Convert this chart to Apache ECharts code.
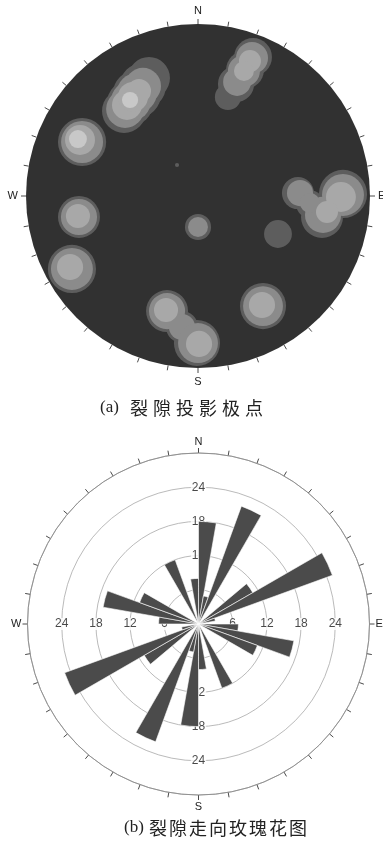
<!DOCTYPE html>
<html>
<head>
<meta charset="utf-8">
<script src="https://cdn.jsdelivr.net/npm/echarts@6.0.0/dist/echarts.min.js"></script>
<style>
  html, body { margin: 0; padding: 0; background: #fff; }
  #chart { width: 383px; height: 843px; }
</style>
</head>
<body>
<div id="chart"></div>
<script>
// Compass letters placed on the 10-degree rings of both diagrams
const compassLabels = { 0: 'N', 90: 'E', 180: 'S', 270: 'W' };

// (a) Pole density contours on the net (net radius = 100).
// Each entry: [x, y, radius, contour level]
const contourLevelColors = ['#5d5d5d', '#8b8b8b', '#a8a8a8', '#c8c8c8'];
const poleContours = [
  // NNW cluster
  [-43.0, 49.4, 12.8, 0], [-39.5, 54.1, 13.4, 0], [-35.5, 59.3, 14.0, 0], [-32.0, 64.0, 13.4, 0], [-28.5, 68.6, 12.2, 0],
  [-42.4, 50.6, 11.0, 1], [-39.0, 55.2, 11.6, 1], [-35.5, 59.9, 11.6, 1], [-32.0, 64.0, 10.5, 1],
  [-41.3, 52.9, 8.7, 2], [-37.8, 57.6, 8.7, 2], [-34.3, 61.0, 7.0, 2],
  [-39.5, 55.8, 4.7, 3],
  // NNE cluster
  [32.0, 80.8, 11.0, 0], [27.3, 73.3, 11.0, 0], [22.1, 65.1, 10.5, 0], [17.4, 57.6, 7.6, 0],
  [31.4, 80.2, 9.3, 1], [26.7, 72.7, 9.3, 1], [22.7, 66.3, 8.1, 1],
  [30.2, 78.5, 6.4, 2], [26.7, 72.7, 5.8, 2],
  // WNW cluster
  [-67.4, 31.4, 14.0, 0], [-67.4, 31.4, 12.2, 1], [-68.6, 32.6, 8.7, 2], [-69.8, 33.1, 5.2, 3],
  // W cluster
  [-69.2, -12.2, 12.2, 0], [-69.2, -12.2, 10.5, 1], [-69.8, -11.6, 7.0, 2],
  // WSW cluster
  [-73.3, -42.4, 14.0, 0], [-73.3, -42.4, 12.2, 1], [-74.4, -41.3, 7.6, 2],
  // S cluster
  [-18.0, -66.9, 12.2, 0], [-9.3, -76.2, 9.3, 0], [-0.6, -85.5, 13.4, 0],
  [-18.0, -66.9, 10.5, 1], [-9.3, -76.2, 7.6, 1], [0.0, -85.5, 11.6, 1],
  [-18.6, -66.3, 7.0, 2], [0.6, -86.0, 7.6, 2],
  // SE cluster
  [37.8, -64.0, 13.4, 0], [37.8, -64.0, 11.6, 1], [37.2, -63.4, 7.6, 2],
  // near-centre clusters
  [0.0, -18.0, 7.6, 0], [0.0, -18.0, 5.8, 1],
  [46.5, -22.1, 8.1, 0],
  [-12.2, 18.0, 1.2, 0],
  // E cluster
  [84.3, 1.2, 14.0, 0], [72.1, -12.2, 12.2, 0], [65.1, -4.7, 8.1, 0], [58.1, 1.7, 9.3, 0],
  [84.3, 0.6, 12.2, 1], [72.7, -11.0, 10.5, 1], [59.3, 1.7, 7.6, 1], [65.1, -4.1, 5.8, 1],
  [83.1, -0.6, 8.7, 2], [75.0, -9.3, 6.4, 2]
];

// (b) Strike rose: number of joints per 10-degree bin
const strikeBins = ['0', '10', '20', '30', '40', '50', '60', '70', '80',
  '90', '100', '110', '120', '130', '140', '150', '160', '170',
  '180', '190', '200', '210', '220', '230', '240', '250', '260',
  '270', '280', '290', '300', '310', '320', '330', '340', '350'];
const strikeCounts = [18, 5, 22, 0, 0, 11, 25, 3, 0,
  7, 17, 11, 0, 0, 0, 12, 0, 8,
  18, 5, 22, 0, 0, 11, 25, 3, 0,
  7, 17, 11, 0, 0, 0, 12, 0, 8];
const ringTicks = [6, 12, 18, 24];
const ringLabelAngles = [0, 90, 180, 270];

const captionA = { tag: '(a)', text: '裂隙投影极点' };
const captionB = { tag: '(b)', text: '裂隙走向玫瑰花图' };

// ---- build the option ----
const netRadius = 100;
const sortedContours = poleContours.slice().sort((p, q) => p[3] - q[3]);

function circleRenderer(fillOf) {
  return function (params, api) {
    const c = api.coord([api.value(0), api.value(1)]);
    const r = api.size([api.value(2), 0])[0];
    return {
      type: 'circle',
      shape: { cx: c[0], cy: c[1], r: r },
      style: { fill: fillOf(api) }
    };
  };
}

const ringLabelData = [];
ringLabelAngles.forEach(a => ringTicks.forEach(r => ringLabelData.push([r, a])));

const compassAxis = (polarIndex, margin) => ({
  polarIndex: polarIndex,
  type: 'value', min: 0, max: 360, interval: 10,
  startAngle: 90, clockwise: true,
  axisLine: { show: false },
  axisTick: { show: true, length: 5, lineStyle: { color: '#4a4a4a', width: 1 } },
  splitLine: { show: false },
  axisLabel: {
    margin: margin,
    fontSize: 11,
    fontFamily: 'Liberation Sans, Arial, sans-serif',
    color: '#222',
    formatter: v => compassLabels[v] || ''
  }
});

// caption: serif tag followed by evenly spaced characters
function caption(c, x, y, tagWidth, charWidth) {
  const chars = c.text.split('').map(ch => '{c|' + ch + '}').join('');
  return {
    type: 'text', x: x, y: y,
    style: {
      text: '{t|' + c.tag + '}' + chars,
      textAlign: 'left', textVerticalAlign: 'middle',
      rich: {
        t: { fontFamily: 'Liberation Serif, DejaVu Serif, serif', fontSize: 17, fill: '#222', width: tagWidth },
        c: { fontFamily: 'Noto Sans CJK SC', fontSize: 18, fill: '#222', width: charWidth }
      }
    }
  };
}

const option = {
  animation: false,
  backgroundColor: '#fff',
  grid: { left: 26, top: 24, width: 344, height: 344 },
  xAxis: { type: 'value', min: -netRadius, max: netRadius, show: false },
  yAxis: { type: 'value', min: -netRadius, max: netRadius, show: false },
  polar: [
    { center: [198, 196], radius: 172 },
    { center: [198.5, 624], radius: 171 },
    { center: [198.5, 624], radius: 171 }
  ],
  angleAxis: [
    compassAxis(0, 8),
    {
      polarIndex: 1, type: 'category', data: strikeBins,
      startAngle: 90, clockwise: true, boundaryGap: true,
      axisLine: { show: true, lineStyle: { color: '#8c8c8c', width: 0.9 } },
      axisTick: { show: false }, axisLabel: { show: false }, splitLine: { show: false }
    },
    compassAxis(2, 6)
  ],
  radiusAxis: [
    { polarIndex: 0, type: 'value', min: 0, max: 1, show: false },
    {
      polarIndex: 1, type: 'value', min: 0, max: 30, interval: 6,
      axisLine: { show: false }, axisTick: { show: false }, axisLabel: { show: false },
      splitLine: { show: true, lineStyle: { color: '#a8a8a8', width: 0.8 } }
    },
    { polarIndex: 2, type: 'value', min: 0, max: 30, show: false }
  ],
  graphic: [
    caption(captionA, 100, 408, 30, 23),
    caption(captionB, 124, 828, 25, 20)
  ],
  series: [
    {
      name: 'net',
      type: 'custom',
      coordinateSystem: 'cartesian2d',
      data: [[0, 0, netRadius]],
      renderItem: circleRenderer(() => '#313131'),
      silent: true, z: 1
    },
    {
      name: 'pole density',
      type: 'custom',
      coordinateSystem: 'cartesian2d',
      data: sortedContours,
      renderItem: circleRenderer(api => contourLevelColors[api.value(3)]),
      silent: true, z: 2
    },
    {
      name: 'ring labels',
      type: 'scatter',
      coordinateSystem: 'polar',
      polarIndex: 2,
      data: ringLabelData,
      symbolSize: 1,
      itemStyle: { color: 'transparent' },
      label: {
        show: true, position: 'inside',
        formatter: p => String(p.value[0]),
        fontSize: 12, fontFamily: 'Liberation Sans, Arial, sans-serif',
        color: '#1a1a1a', backgroundColor: '#fff', padding: [0, 1]
      },
      silent: true, z: 2
    },
    {
      name: 'strike',
      type: 'bar',
      coordinateSystem: 'polar',
      polarIndex: 1,
      data: strikeCounts,
      barCategoryGap: '0%',
      itemStyle: { color: '#4b4b4b', borderColor: '#fff', borderWidth: 0.6 },
      silent: true, z: 5
    }
  ]
};

const chart = echarts.init(document.getElementById('chart'), null, { renderer: 'canvas' });
chart.setOption(option);
</script>
</body>
</html>
